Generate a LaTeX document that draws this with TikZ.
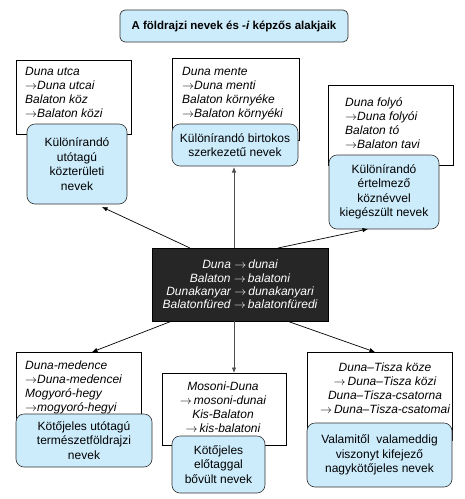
\documentclass[tikz,border=0pt]{standalone}
\usepackage{fontspec}
\setmainfont{Liberation Sans}
\usetikzlibrary{arrows.meta}
\definecolor{lblue}{RGB}{204,236,252}
\definecolor{dkfill}{RGB}{38,38,38}
\definecolor{bord}{RGB}{50,50,50}
\tikzset{
  wbox/.style={draw=black, fill=white, line width=0.6pt, rectangle, inner sep=0pt},
  bbox/.style={draw=bord, fill=lblue, line width=0.6pt, rounded corners=8pt, inner sep=0pt, align=center,
    font=\fontsize{12}{14.5}\selectfont},
  ttxt/.style={inner sep=0pt, align=left, font=\fontsize{12}{14}\selectfont\itshape},
  ctxt/.style={inner sep=0pt, align=center, font=\fontsize{12}{14}\selectfont\itshape},
  arr/.style={-{Latex[length=5.5pt,width=4.5pt]}, line width=0.7pt, draw=black},
  varr/.style={-{Latex[length=5.5pt,width=4.5pt]}, line width=0.8pt, draw=black!70}
}
\newcommand{\ar}{\ensuremath{\rightarrow}}
\begin{document}
\begin{tikzpicture}[x=1pt,y=-1pt]
\useasboundingbox (0,0) rectangle (465,499);
\fill[white] (0,0) rectangle (465,499);

% title
\node[draw=bord, fill=lblue, line width=0.7pt, rounded corners=5pt, minimum width=228pt, minimum height=32pt, inner sep=0pt,
  font=\fontsize{11.5}{13}\selectfont\bfseries] (title) at (234,26) {A földrajzi nevek és \textit{-i} képzős alakjaik};

% white example boxes
\node[wbox, minimum width=115pt, minimum height=74pt] (w1) at (73.5,97) {};
\node[wbox, minimum width=127pt, minimum height=82pt] (w2) at (235.5,99) {};
\node[wbox, minimum width=125pt, minimum height=80pt] (w3) at (390.5,125) {};
\node[wbox, minimum width=125pt, minimum height=78pt] (w4) at (78.5,391) {};
\node[wbox, minimum width=124pt, minimum height=72pt] (w5) at (224,409) {};
\node[wbox, minimum width=145pt, minimum height=88pt] (w6) at (379.5,396) {};

% example texts
\node[ttxt, anchor=north west] (t1) at (25,67) {Duna utca\\\ar Duna utcai\\Balaton köz\\\ar Balaton közi};
\node[ttxt, anchor=north west] (t2) at (182,67) {Duna mente\\\ar Duna menti\\Balaton környéke\\\ar Balaton környéki};
\node[ttxt, anchor=north west] (t3) at (345,97) {Duna folyó\\\ar Duna folyói\\Balaton tó\\\ar Balaton tavi};
\node[ttxt, anchor=north west] (t4) at (25,361) {Duna-medence\\\ar Duna-medencei\\Mogyoró-hegy\\\ar mogyoró-hegyi};
\node[ctxt, anchor=north] (t5) at (223,382) {Mosoni-Duna\\\ar\,mosoni-dunai\\Kis-Balaton\\\ar\,kis-balatoni};
\node[ctxt, anchor=north] (t6) at (385,363) {Duna–Tisza köze\\\ar\,Duna–Tisza közi\\Duna–Tisza-csatorna\\\ar\,Duna–Tisza-csatomai};

% blue category boxes
\node[bbox, minimum width=100pt, minimum height=80pt] (b1) at (77,164) {Különírandó\\utótagú\\közterületi\\nevek};
\node[bbox, minimum width=126pt, minimum height=42pt] (b2) at (235,145) {Különírandó birtokos\\szerkezetű nevek};
\node[bbox, minimum width=110pt, minimum height=74pt] (b3) at (384,192) {Különírandó\\értelmező\\köznévvel\\kiegészült nevek};
\node[bbox, minimum width=136pt, minimum height=53pt] (b4) at (84,440.5) {Kötőjeles utótagú\\természetföldrajzi\\nevek};
\node[bbox, minimum width=93pt, minimum height=57pt] (b5) at (218.5,464.5) {Kötőjeles\\előtaggal\\bővült nevek};
\node[bbox, minimum width=145pt, minimum height=64pt] (b6) at (379.5,455) {Valamitől\ \ valameddig\\viszonyt kifejező\\nagykötőjeles nevek};

% centre box
\node[draw=black, fill=dkfill, minimum width=176pt, minimum height=73pt, inner sep=0pt, align=center,
  text=white, font=\fontsize{12}{13.4}\selectfont\itshape] (ctr) at (240,284.5)
  {Duna \ar\,dunai\\Balaton \ar\,balatoni\\Dunakanyar \ar\,dunakanyari\\Balatonfüred \ar\,balatonfüredi};

% connector end points
\coordinate (s1) at (190,248);
\coordinate (s2) at (234,248);
\coordinate (s3) at (278,248);
\coordinate (s4) at (172,321);
\coordinate (s5) at (234,321);
\coordinate (s6) at (287,321);
\coordinate (e1) at (102,207);
\coordinate (e2) at (234,167);
\coordinate (e3) at (368,229);
\coordinate (e4) at (92,352);
\coordinate (e5) at (234,373);
\coordinate (e6) at (375,352);

\draw[arr] (s1) -- (e1);
\draw[varr] (s2) -- (e2);
\draw[arr] (s3) -- (e3);
\draw[arr] (s4) -- (e4);
\draw[varr] (s5) -- (e5);
\draw[arr] (s6) -- (e6);
\end{tikzpicture}
\end{document}
